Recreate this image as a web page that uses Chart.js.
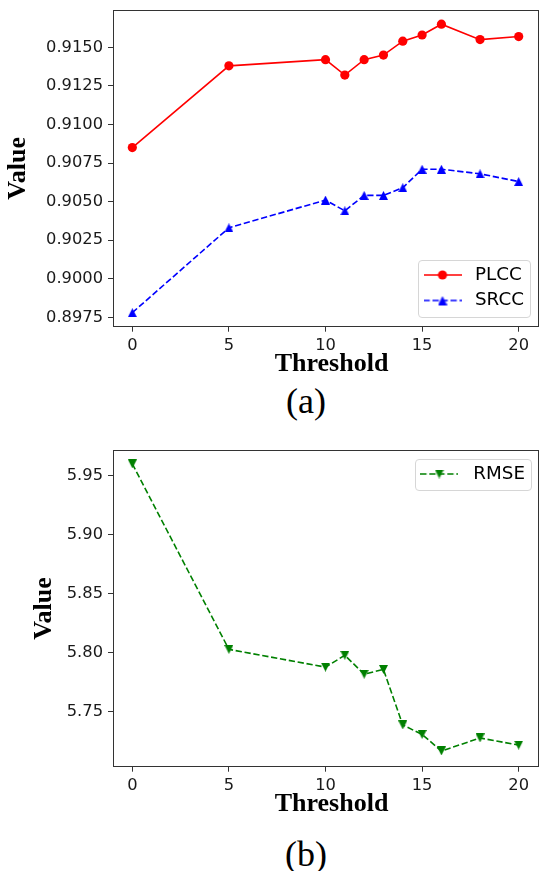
<!DOCTYPE html>
<html><head><meta charset="utf-8">
<script src="https://cdn.jsdelivr.net/npm/chart.js@4.4.1/dist/chart.umd.min.js"></script>
<style>
html,body{margin:0;padding:0;background:#fff;width:539px;height:871px;overflow:hidden;}
#wrapA{position:absolute;left:0;top:0;width:539px;height:380px;}
#wrapB{position:absolute;left:0;top:430px;width:539px;height:390px;}
.cap{position:absolute;left:0;width:612px;text-align:center;font-family:'Liberation Serif','Times New Roman',serif;font-size:36px;line-height:36px;color:#000;}
</style></head><body>
<div id="wrapA"><canvas id="chartA" width="539" height="380" style="width:539px;height:380px"></canvas></div>
<div class="cap" style="top:383px">(a)</div>
<div id="wrapB"><canvas id="chartB" width="539" height="390" style="width:539px;height:390px"></canvas></div>
<div class="cap" style="top:836px">(b)</div>
<script>
// ---- data ----
const thresholds = [0, 5, 10, 11, 12, 13, 14, 15, 16, 18, 20];
const plcc = [0.9085, 0.9138, 0.9142, 0.9132, 0.9142, 0.9145, 0.9154, 0.9158, 0.9165, 0.9155, 0.9157];
const srcc = [0.8978, 0.9033, 0.9051, 0.9044, 0.9054, 0.9054, 0.9059, 0.9071, 0.9071, 0.9068, 0.9063];
const rmse = [5.960, 5.803, 5.788, 5.798, 5.782, 5.786, 5.739, 5.731, 5.717, 5.728, 5.722];
const xTicks = [0, 5, 10, 15, 20];
const yTicksA = [0.8975, 0.9000, 0.9025, 0.9050, 0.9075, 0.9100, 0.9125, 0.9150];
const yTicksB = [5.75, 5.80, 5.85, 5.90, 5.95];
const xRange = [-1, 21];
const yRangeA = [0.89689, 0.91742];
const yRangeB = [5.7037, 5.9715];

// ---- styling helpers ----
const tickFont = {family: "'DejaVu Sans', sans-serif", size: 16.3};
const titleFont = {family: "'Liberation Serif', 'Times New Roman', serif", size: 26, weight: 'bold'};
const legendFont = {family: "'DejaVu Sans', sans-serif", size: 18.3};

function triMarker(color, down, size) {
  const c = document.createElement('canvas'); c.width = size; c.height = size;
  const g = c.getContext('2d'); g.fillStyle = color; g.beginPath();
  if (down) { g.moveTo(0, 0); g.lineTo(size, 0); g.lineTo(size / 2, size); }
  else { g.moveTo(size / 2, 0); g.lineTo(size, size); g.lineTo(0, size); }
  g.closePath(); g.fill(); return c;
}
function legendSample(ds) {
  const W = 38, H = 14; const c = document.createElement('canvas'); c.width = W; c.height = H;
  const g = c.getContext('2d');
  g.strokeStyle = ds.borderColor; g.lineWidth = ds.borderWidth; g.setLineDash(ds.borderDash || []);
  g.beginPath(); g.moveTo(0, H / 2); g.lineTo(W, H / 2); g.stroke();
  if (ds.pointStyle instanceof HTMLCanvasElement) {
    g.drawImage(ds.pointStyle, (W - ds.pointStyle.width) / 2, (H - ds.pointStyle.height) / 2);
  } else {
    g.fillStyle = ds.backgroundColor; g.beginPath(); g.arc(W / 2, H / 2, ds.pointRadius, 0, Math.PI * 2); g.fill();
  }
  return c;
}
function pts(ys) { return thresholds.map((t, i) => ({x: t, y: ys[i]})); }

const framePlugin = {
  id: 'frame',
  beforeDraw(chart, args, opts) {
    // shift the x-axis title horizontally like in the reference
    const sx = chart.scales.x;
    if (sx && opts.xTitleShift && !sx._titlePatched) {
      const orig = sx.drawTitle.bind(sx), dx = opts.xTitleShift;
      sx.drawTitle = function () { this.left += dx; this.right += dx; try { orig(); } finally { this.left -= dx; this.right -= dx; } };
      sx._titlePatched = true;
    }
    const f = opts.legendFrame; if (!f) return;
    const ctx = chart.ctx; ctx.save();
    ctx.fillStyle = 'rgba(255,255,255,0.8)'; ctx.strokeStyle = '#d6d6d6'; ctx.lineWidth = 1;
    ctx.beginPath(); ctx.roundRect(f[0] + 0.5, f[1] + 0.5, f[2] - f[0], f[3] - f[1], 3.5);
    ctx.fill(); ctx.stroke(); ctx.restore();
  },
  afterUpdate(chart, args, opts) {
    const lg = chart.legend; if (!lg || !opts.legendAt) return;
    const p = lg.options.labels.padding;
    lg.left = opts.legendAt[0] - p; lg.top = opts.legendAt[1] - p;
    lg.right = chart.width; lg.bottom = chart.height;
    lg.width = lg.right - lg.left; lg.height = lg.bottom - lg.top;
  },
  afterDraw(chart) {
    const a = chart.chartArea, ctx = chart.ctx; ctx.save();
    ctx.strokeStyle = '#333'; ctx.lineWidth = 1;
    const l = Math.floor(a.left) + 0.5, t = Math.floor(a.top) + 0.5, r = Math.floor(a.right) + 0.5, b = Math.floor(a.bottom) + 0.5;
    ctx.strokeRect(l, t, r - l, b - t); ctx.restore();
  }
};

function makeScales(yTicks, yRange, yDigits, yWidth) {
  const zeroPad = s => { s.paddingLeft = 0; s.paddingRight = 0; s.paddingTop = 0; s.paddingBottom = 0; };
  const grid = {drawOnChartArea: false, drawTicks: true, tickLength: 5, tickColor: '#333', lineWidth: 1};
  return {
    x: {
      type: 'linear', min: xRange[0], max: xRange[1],
      afterBuildTicks: s => { s.ticks = xTicks.map(v => ({value: v})); },
      ticks: {font: tickFont, color: '#1a1a1a', padding: 4, maxRotation: 0, autoSkip: false, callback: v => String(v)},
      grid: grid, border: {display: false},
      title: {display: true, text: 'Threshold', font: titleFont, color: '#000', padding: 0},
      afterFit: s => { s.height = 53; zeroPad(s); }
    },
    y: {
      type: 'linear', min: yRange[0], max: yRange[1],
      afterBuildTicks: s => { s.ticks = yTicks.map(v => ({value: v})); },
      ticks: {font: tickFont, color: '#1a1a1a', padding: 5, autoSkip: false, callback: v => Number(v).toFixed(yDigits)},
      grid: grid, border: {display: false},
      title: {display: true, text: 'Value', font: titleFont, color: '#000', padding: 0},
      afterFit: s => { s.width = yWidth; zeroPad(s); }
    }
  };
}
function legendOpts(boxW, pad) {
  return {
    display: true, position: 'chartArea', align: 'start', fullSize: false,
    labels: {
      usePointStyle: true, pointStyleWidth: boxW, padding: pad, font: legendFont, color: '#000',
      generateLabels: chart => chart.data.datasets.map((ds, i) => ({
        text: ds.label, pointStyle: legendSample(ds), datasetIndex: i, hidden: false,
        fillStyle: 'rgba(0,0,0,0)', strokeStyle: 'rgba(0,0,0,0)', lineWidth: 0, fontColor: '#000'
      }))
    }
  };
}

new Chart(document.getElementById('chartA'), {
  type: 'line',
  data: {
    datasets: [
      {label: 'PLCC', data: pts(plcc), borderColor: '#ff0000', backgroundColor: '#ff0000', borderWidth: 1.6,
       pointStyle: 'circle', pointRadius: 4.6, pointBorderWidth: 0, tension: 0, fill: false},
      {label: 'SRCC', data: pts(srcc), borderColor: '#0000ff', backgroundColor: '#0000ff', borderWidth: 1.6,
       borderDash: [6.3, 2.7], pointStyle: triMarker('#0000ff', false, 9), pointRadius: 4.6, pointBorderWidth: 0, tension: 0, fill: false}
    ]
  },
  options: {
    responsive: false, animation: false, events: [],
    layout: {autoPadding: false, padding: {left: 2.7, top: 10, right: 1, bottom: 0.3}},
    scales: makeScales(yTicksA, yRangeA, 4, 110.3),
    plugins: {
      legend: legendOpts(46.7, 7.2),
      tooltip: {enabled: false},
      frame: {legendAt: [419.15, 265.85], legendFrame: [418, 260, 530, 317], xTitleShift: 6}
    }
  },
  plugins: [framePlugin]
});

new Chart(document.getElementById('chartB'), {
  type: 'line',
  data: {
    datasets: [
      {label: 'RMSE', data: pts(rmse), borderColor: '#008000', backgroundColor: '#008000', borderWidth: 1.6,
       borderDash: [6.3, 2.7], pointStyle: triMarker('#008000', true, 9), pointRadius: 4.6, pointBorderWidth: 0, tension: 0, fill: false}
    ]
  },
  options: {
    responsive: false, animation: false, events: [],
    layout: {autoPadding: false, padding: {left: 28.4, top: 20.3, right: 1, bottom: 0.3}},
    scales: makeScales(yTicksB, yRangeB, 2, 84.6),
    plugins: {
      legend: legendOpts(49.7, 7.2),
      tooltip: {enabled: false},
      frame: {legendAt: [414.45, 34.85], legendFrame: [415, 29, 531, 60], xTitleShift: 6}
    }
  },
  plugins: [framePlugin]
});
</script>
</body></html>
